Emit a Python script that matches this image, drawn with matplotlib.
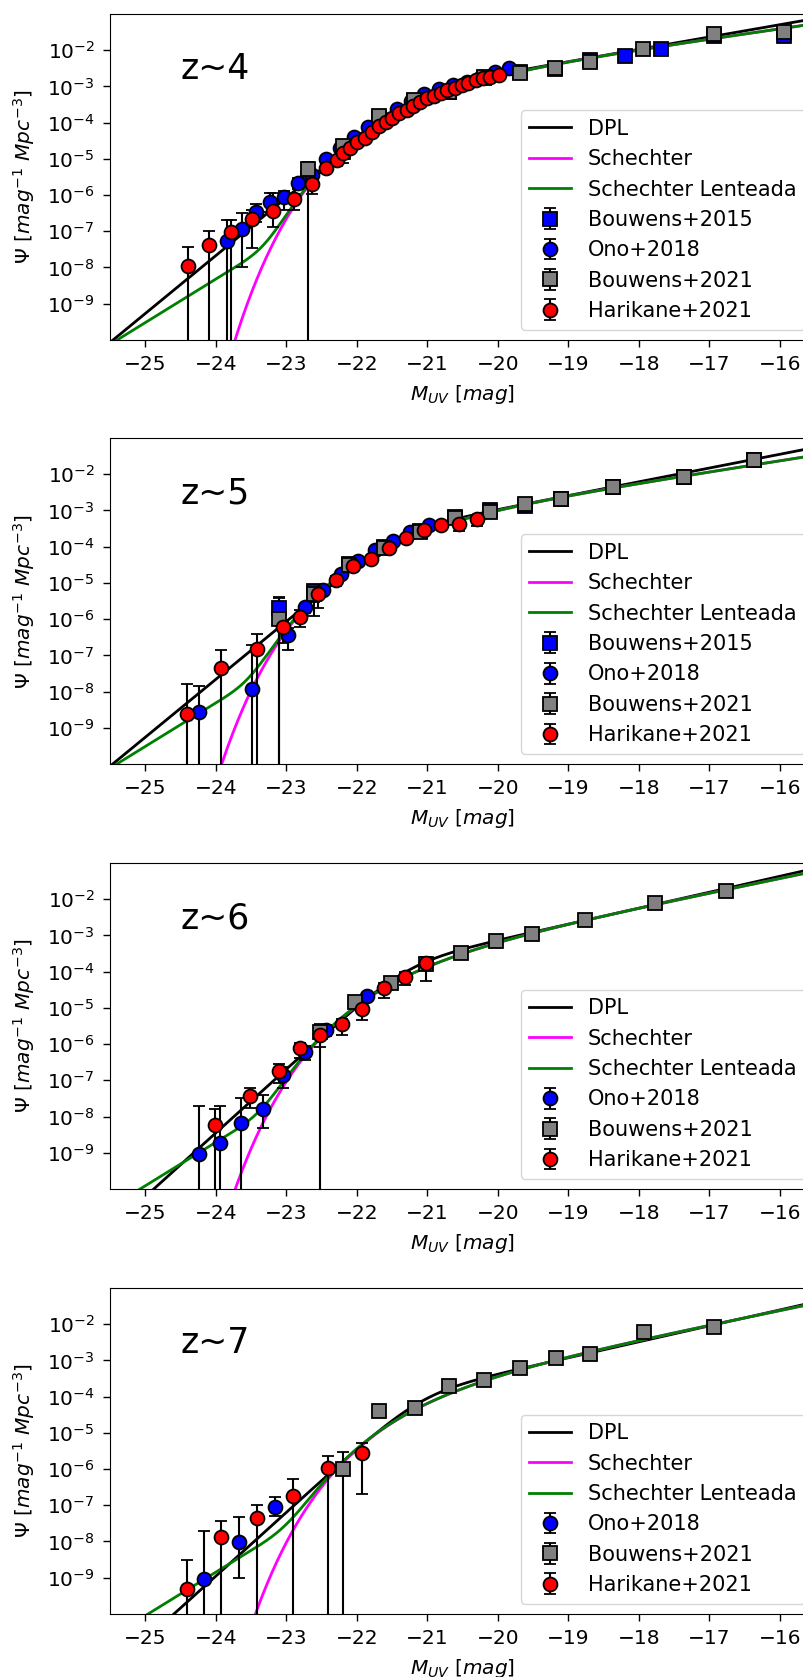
import numpy as np
import matplotlib
matplotlib.use("Agg")
import matplotlib.pyplot as plt
from matplotlib.ticker import NullLocator, FixedLocator

# ---------------- observed UV luminosity functions ----------------
# z ~ 4
M_b15_z4 = [-22.69, -22.19, -21.69, -21.19, -20.69, -20.19, -19.69, -19.19, -18.69, -18.19, -17.69, -16.94, -15.94]
phi_b15_z4 = [3e-6, 1.5e-5, 1.34e-4, 3.93e-4, 6.78e-4, 1.696e-3, 2.475e-3, 2.984e-3, 5.352e-3, 6.865e-3, 1.0473e-2, 2.458e-2, 2.508e-2]
lo_b15_z4 = [2e-6, 1.0e-5, 1.11e-4, 3.6e-4, 6.2e-4, 1.55e-3, 2.24e-3, 2.57e-3, 4.55e-3, 5.75e-3, 8.9e-3, 2.08e-2, 1.71e-2]
hi_b15_z4 = [4e-6, 2.0e-5, 1.57e-4, 4.27e-4, 7.4e-4, 1.84e-3, 2.71e-3, 3.4e-3, 6.15e-3, 7.98e-3, 1.2e-2, 2.84e-2, 3.31e-2]

M_ono_z4 = [-23.84, -23.63, -23.43, -23.23, -23.03, -22.83, -22.63, -22.44, -22.24, -22.04, -21.84,
            -21.64, -21.43, -21.23, -21.04, -20.83, -20.64, -20.44, -20.24, -20.04, -19.84]
phi_ono_z4 = [5.5e-8, 1.12e-7, 3.3e-7, 6.3e-7, 9.1e-7, 2.2e-6, 3.5e-6, 1.02e-5, 1.95e-5, 3.9e-5, 7.4e-5,
              1.32e-4, 2.4e-4, 4.0e-4, 6.0e-4, 8.5e-4, 1.1e-3, 1.35e-3, 1.86e-3, 2.57e-3, 3.16e-3]
lo_ono_z4 = [0, 1.05e-8, 1.8e-7, 3.5e-7, 3.9e-7, 1.5e-6, 2.6e-6, 8.4e-6, 1.7e-5, 3.5e-5, 6.8e-5,
             1.23e-4, 2.25e-4, 3.8e-4, 5.7e-4, 8.1e-4, 1.05e-3, 1.29e-3, 1.78e-3, 2.46e-3, 3.02e-3]
hi_ono_z4 = [2.0e-7, 3.2e-7, 5.8e-7, 1.12e-6, 1.32e-6, 3.0e-6, 4.5e-6, 1.2e-5, 2.2e-5, 4.3e-5, 8.0e-5,
             1.41e-4, 2.55e-4, 4.2e-4, 6.3e-4, 8.9e-4, 1.15e-3, 1.41e-3, 1.94e-3, 2.68e-3, 3.3e-3]

M_b21_z4 = [-22.69, -22.19, -21.69, -21.19, -20.69, -20.19, -19.69, -19.19, -18.69, -17.94, -16.94, -15.94]
phi_b21_z4 = [5.1e-6, 2.2e-5, 1.5e-4, 4.2e-4, 6.8e-4, 1.86e-3, 2.4e-3, 3.2e-3, 4.7e-3, 1.05e-2, 2.75e-2, 3.1e-2]
lo_b21_z4 = [0, 7.6e-6, 1.3e-4, 3.9e-4, 6.3e-4, 1.72e-3, 2.2e-3, 2.9e-3, 4.2e-3, 9.2e-3, 2.4e-2, 2.5e-2]
hi_b21_z4 = [8.3e-6, 3.2e-5, 1.7e-4, 4.5e-4, 7.3e-4, 2.0e-3, 2.6e-3, 3.5e-3, 5.2e-3, 1.18e-2, 3.1e-2, 3.7e-2]

M_har_z4 = [-24.39, -24.09, -23.79, -23.49, -23.19, -22.89, -22.64, -22.44, -22.28, -22.19, -22.10,
            -21.99, -21.88, -21.79, -21.69, -21.59, -21.50, -21.40, -21.29, -21.20, -21.10, -21.01,
            -20.91, -20.81, -20.72, -20.61, -20.51, -20.42, -20.31, -20.21, -20.11, -19.99]
phi_har_z4 = [1.12e-8, 4.2e-8, 9.3e-8, 2.2e-7, 3.6e-7, 7.9e-7, 2.0e-6, 5.6e-6, 9.3e-6, 1.41e-5, 1.95e-5,
              2.9e-5, 3.8e-5, 5.6e-5, 7.8e-5, 1.07e-4, 1.32e-4, 1.82e-4, 2.24e-4, 2.95e-4, 3.8e-4, 4.7e-4,
              5.5e-4, 6.5e-4, 7.9e-4, 9.1e-4, 1.10e-3, 1.26e-3, 1.51e-3, 1.66e-3, 1.86e-3, 2.04e-3]
lo_har_z4 = [0, 0, 0, 3.4e-8, 1.3e-7, 3.9e-7, 1.1e-6, 4.0e-6, 6.3e-6, 1.1e-5, 1.6e-5,
             2.5e-5, 3.4e-5, 5.1e-5, 7.2e-5, 9.9e-5, 1.23e-4, 1.7e-4, 2.1e-4, 2.8e-4, 3.6e-4, 4.45e-4,
             5.2e-4, 6.2e-4, 7.5e-4, 8.7e-4, 1.05e-3, 1.2e-3, 1.44e-3, 1.59e-3, 1.78e-3, 1.95e-3]
hi_har_z4 = [3.7e-8, 1.0e-7, 2.0e-7, 3.9e-7, 1.15e-6, 1.1e-6, 3.0e-6, 7.1e-6, 1.2e-5, 1.7e-5, 2.3e-5,
             3.3e-5, 4.2e-5, 6.1e-5, 8.4e-5, 1.15e-4, 1.41e-4, 1.94e-4, 2.38e-4, 3.1e-4, 4.0e-4, 4.95e-4,
             5.8e-4, 6.8e-4, 8.3e-4, 9.5e-4, 1.15e-3, 1.32e-3, 1.58e-3, 1.73e-3, 1.94e-3, 2.13e-3]

# z ~ 5
M_b15_z5 = [-23.11, -22.61, -22.11, -21.61, -21.11, -20.61, -20.11, -19.61, -19.11, -18.36, -17.36, -16.36]
phi_b15_z5 = [2e-6, 6e-6, 3.4e-5, 1.01e-4, 2.65e-4, 6.76e-4, 1.029e-3, 1.329e-3, 2.085e-3, 4.46e-3, 8.6e-3, 2.44e-2]
lo_b15_z5 = [0, 3e-6, 2.6e-5, 8.7e-5, 2.4e-4, 6.3e-4, 9.5e-4, 1.22e-3, 1.91e-3, 4.07e-3, 7.8e-3, 2.17e-2]
hi_b15_z5 = [4e-6, 9e-6, 4.2e-5, 1.15e-4, 2.9e-4, 7.2e-4, 1.11e-3, 1.44e-3, 2.26e-3, 4.85e-3, 9.4e-3, 2.71e-2]

M_ono_z5 = [-24.24, -23.48, -22.98, -22.73, -22.48, -22.23, -21.98, -21.74, -21.48, -21.24, -20.98]
phi_ono_z5 = [2.75e-9, 1.15e-8, 3.6e-7, 2.1e-6, 6.3e-6, 1.74e-5, 4.0e-5, 8.1e-5, 1.45e-4, 2.5e-4, 3.9e-4]
lo_ono_z5 = [0, 0, 1.38e-7, 1.5e-6, 5.0e-6, 1.5e-5, 3.6e-5, 7.4e-5, 1.34e-4, 2.35e-4, 3.7e-4]
hi_ono_z5 = [1.45e-8, 1.9e-7, 5.6e-7, 2.7e-6, 7.6e-6, 1.98e-5, 4.4e-5, 8.8e-5, 1.56e-4, 2.65e-4, 4.1e-4]

M_b21_z5 = [-23.11, -22.61, -22.11, -21.61, -21.11, -20.61, -20.11, -19.61, -19.11, -18.36, -17.36, -16.36]
phi_b21_z5 = [1.0e-6, 5.1e-6, 3.1e-5, 9.5e-5, 2.6e-4, 6.2e-4, 9.1e-4, 1.5e-3, 2.05e-3, 4.5e-3, 8.5e-3, 2.45e-2]
lo_b21_z5 = [0, 1.2e-6, 2.3e-5, 8.2e-5, 2.35e-4, 5.8e-4, 8.5e-4, 1.4e-3, 1.9e-3, 4.15e-3, 7.8e-3, 2.2e-2]
hi_b21_z5 = [3.8e-6, 9.0e-6, 3.9e-5, 1.08e-4, 2.85e-4, 6.6e-4, 9.7e-4, 1.6e-3, 2.2e-3, 4.85e-3, 9.2e-3, 2.7e-2]

M_har_z5 = [-24.41, -23.92, -23.42, -23.05, -22.80, -22.55, -22.30, -22.05, -21.80, -21.55, -21.30,
            -21.05, -20.80, -20.55, -20.30]
phi_har_z5 = [2.4e-9, 4.4e-8, 1.48e-7, 5.9e-7, 1.17e-6, 5.1e-6, 1.2e-5, 2.9e-5, 4.7e-5, 9.5e-5, 1.7e-4,
              2.9e-4, 4.0e-4, 4.2e-4, 5.75e-4]
lo_har_z5 = [0, 0, 0, 2.2e-7, 6.0e-7, 2.0e-6, 8.0e-6, 2.4e-5, 4.0e-5, 8.3e-5, 1.5e-4,
             2.6e-4, 3.6e-4, 2.7e-4, 3.8e-4]
hi_har_z5 = [1.58e-8, 1.45e-7, 3.8e-7, 9.0e-7, 1.8e-6, 7.5e-6, 1.6e-5, 3.4e-5, 5.4e-5, 1.07e-4, 1.9e-4,
             3.2e-4, 4.4e-4, 4.6e-4, 6.2e-4]

# z ~ 6
M_ono_z6 = [-24.24, -23.94, -23.64, -23.33, -23.04, -22.73, -22.43, -21.85]
phi_ono_z6 = [9.5e-10, 1.9e-9, 6.8e-9, 1.6e-8, 1.38e-7, 6.2e-7, 2.5e-6, 2.1e-5]
lo_ono_z6 = [0, 0, 0, 4.9e-9, 6.3e-8, 3.7e-7, 1.7e-6, 1.6e-5]
hi_ono_z6 = [2.0e-8, 1.9e-8, 3.2e-8, 4.0e-8, 2.4e-7, 8.7e-7, 3.3e-6, 2.6e-5]

M_b21_z6 = [-22.52, -22.02, -21.52, -21.02, -20.52, -20.02, -19.52, -18.77, -17.77, -16.77]
phi_b21_z6 = [2.2e-6, 1.41e-5, 4.9e-5, 1.66e-4, 3.2e-4, 7.1e-4, 1.12e-3, 2.75e-3, 8.1e-3, 1.7e-2]
lo_b21_z6 = [0, 1.1e-5, 4.2e-5, 1.5e-4, 2.9e-4, 6.5e-4, 1.02e-3, 2.5e-3, 7.3e-3, 1.5e-2]
hi_b21_z6 = [3.7e-6, 1.7e-5, 5.6e-5, 1.8e-4, 3.5e-4, 7.7e-4, 1.22e-3, 3.0e-3, 8.9e-3, 1.9e-2]

M_har_z6 = [-24.01, -23.51, -23.11, -22.81, -22.52, -22.21, -21.92, -21.62, -21.32, -21.02]
phi_har_z6 = [5.8e-9, 3.6e-8, 1.78e-7, 7.6e-7, 1.78e-6, 3.5e-6, 9.5e-6, 3.55e-5, 7.2e-5, 1.74e-4]
lo_har_z6 = [0, 1.74e-8, 8.5e-8, 4.1e-7, 8.5e-7, 1.78e-6, 4.6e-6, 1.9e-5, 4.2e-5, 5.6e-5]
hi_har_z6 = [1.6e-8, 6.3e-8, 2.8e-7, 1.1e-6, 2.9e-6, 5.0e-6, 1.35e-5, 5.0e-5, 1.0e-4, 2.5e-4]

# z ~ 7
M_ono_z7 = [-24.16, -23.67, -23.16]
phi_ono_z7 = [9.5e-10, 9.8e-9, 9.1e-8]
lo_ono_z7 = [0, 1.0e-9, 5.0e-8]
hi_ono_z7 = [2.0e-8, 4.7e-8, 1.7e-7]

M_b21_z7 = [-22.19, -21.68, -21.18, -20.69, -20.19, -19.68, -19.18, -18.69, -17.93, -16.94]
phi_b21_z7 = [1.0e-6, 4.1e-5, 4.7e-5, 2.0e-4, 2.9e-4, 6.0e-4, 1.17e-3, 1.48e-3, 6.0e-3, 8.5e-3]
lo_b21_z7 = [0, 3.2e-5, 3.9e-5, 1.75e-4, 2.6e-4, 5.4e-4, 1.05e-3, 1.3e-3, 5.2e-3, 7.2e-3]
hi_b21_z7 = [3.0e-6, 5.0e-5, 5.5e-5, 2.25e-4, 3.2e-4, 6.6e-4, 1.29e-3, 1.66e-3, 6.8e-3, 9.8e-3]

M_har_z7 = [-24.41, -23.92, -23.42, -22.91, -22.41, -21.92]
phi_har_z7 = [4.9e-10, 1.29e-8, 4.4e-8, 1.82e-7, 1.05e-6, 2.7e-6]
lo_har_z7 = [0, 0, 0, 0, 0, 2.0e-7]
hi_har_z7 = [3.0e-9, 3.7e-8, 1.0e-7, 5.2e-7, 2.3e-6, 5.2e-6]

# ---------------- best-fit model parameters ----------------
redshift_labels = ["z~4", "z~5", "z~6", "z~7"]
# Schechter: phi*, M*, alpha
schechter_params = [(1.93e-3, -20.80, -1.70),
                    (7.4e-4, -21.07, -1.76),
                    (4.2e-4, -20.97, -2.00),
                    (3.43e-4, -20.70, -2.00)]
# double power law: phi*, M*, alpha, beta
dpl_params = [(1.01e-3, -21.10, -1.85, -5.0),
              (3.43e-4, -21.40, -1.95, -5.0),
              (2.17e-4, -21.30, -2.10, -5.4),
              (1.53e-4, -21.10, -2.10, -5.4)]
# strong-lensing optical depth used for the lensed Schechter curve
lens_tau = [6.6e-4, 8.6e-4, 9.0e-4, 1.7e-3]


def schechter(M, phi_star, M_star, alpha):
    x = 10.0 ** (-0.4 * (M - M_star))
    return 0.4 * np.log(10) * phi_star * x ** (alpha + 1) * np.exp(-x)


def double_power_law(M, phi_star, M_star, alpha, beta):
    d = M - M_star
    return 0.4 * np.log(10) * phi_star / (10.0 ** (0.4 * (alpha + 1) * d) + 10.0 ** (0.4 * (beta + 1) * d))


def lensed_schechter(M, phi_star, M_star, alpha, tau, mu_min=2.0, index=4.0):
    """Schechter function convolved with a power-law magnification PDF."""
    mu = np.logspace(np.log10(mu_min), 4, 4000)
    pdf = (index - 1) * mu_min ** (index - 1) * mu ** (-index)
    intrinsic = schechter(M[:, None] + 2.5 * np.log10(mu)[None, :], phi_star, M_star, alpha)
    magnified = np.trapezoid(pdf[None, :] * intrinsic, mu, axis=1)
    return (1 - tau) * schechter(M, phi_star, M_star, alpha) + tau * magnified


datasets = [
    [("Bouwens+2015", "s", "blue", M_b15_z4, phi_b15_z4, lo_b15_z4, hi_b15_z4),
     ("Ono+2018", "o", "blue", M_ono_z4, phi_ono_z4, lo_ono_z4, hi_ono_z4),
     ("Bouwens+2021", "s", "gray", M_b21_z4, phi_b21_z4, lo_b21_z4, hi_b21_z4),
     ("Harikane+2021", "o", "red", M_har_z4, phi_har_z4, lo_har_z4, hi_har_z4)],
    [("Bouwens+2015", "s", "blue", M_b15_z5, phi_b15_z5, lo_b15_z5, hi_b15_z5),
     ("Ono+2018", "o", "blue", M_ono_z5, phi_ono_z5, lo_ono_z5, hi_ono_z5),
     ("Bouwens+2021", "s", "gray", M_b21_z5, phi_b21_z5, lo_b21_z5, hi_b21_z5),
     ("Harikane+2021", "o", "red", M_har_z5, phi_har_z5, lo_har_z5, hi_har_z5)],
    [("Ono+2018", "o", "blue", M_ono_z6, phi_ono_z6, lo_ono_z6, hi_ono_z6),
     ("Bouwens+2021", "s", "gray", M_b21_z6, phi_b21_z6, lo_b21_z6, hi_b21_z6),
     ("Harikane+2021", "o", "red", M_har_z6, phi_har_z6, lo_har_z6, hi_har_z6)],
    [("Ono+2018", "o", "blue", M_ono_z7, phi_ono_z7, lo_ono_z7, hi_ono_z7),
     ("Bouwens+2021", "s", "gray", M_b21_z7, phi_b21_z7, lo_b21_z7, hi_b21_z7),
     ("Harikane+2021", "o", "red", M_har_z7, phi_har_z7, lo_har_z7, hi_har_z7)],
]

fig = plt.figure(figsize=(8.04, 16.77), dpi=100)
panel_bottoms = [0.7973, 0.5444, 0.2910, 0.0376]
M_grid = np.linspace(-25.6, -15.4, 600)
FS = 14.5

for i, ax_bottom in enumerate(panel_bottoms):
    ax = fig.add_axes([0.1368, ax_bottom, 0.877, 0.1944])
    ax.set_yscale("log")

    l1, = ax.plot(M_grid, double_power_law(M_grid, *dpl_params[i]), color="black", lw=2, label="DPL")
    l2, = ax.plot(M_grid, schechter(M_grid, *schechter_params[i]), color="magenta", lw=2, label="Schechter")
    l3, = ax.plot(M_grid, lensed_schechter(M_grid, *schechter_params[i], lens_tau[i]),
                  color="green", lw=2, label="Schechter Lenteada")
    handles = [l1, l2, l3]

    for label, marker, colour, M, phi, lo, hi in datasets[i]:
        phi = np.asarray(phi)
        yerr = [phi - np.asarray(lo), np.asarray(hi) - phi]
        h = ax.errorbar(M, phi, yerr=yerr, fmt=marker, ms=10 if marker == "o" else 9.5,
                        mfc=colour, mec="black", mew=1.3, ecolor="black",
                        elinewidth=1.5, capsize=4, capthick=1.5, label=label)
        handles.append(h)

    ax.set_xlim(-25.5, -15.5)
    ax.set_ylim(1e-10, 1e-1)
    ax.xaxis.set_major_locator(FixedLocator(np.arange(-25, -15, 1)))
    ax.yaxis.set_major_locator(FixedLocator([1e-9, 1e-8, 1e-7, 1e-6, 1e-5, 1e-4, 1e-3, 1e-2]))
    ax.yaxis.set_minor_locator(NullLocator())
    ax.xaxis.set_minor_locator(NullLocator())
    ax.tick_params(labelsize=FS, length=5, pad=6, width=1)

    ax.set_xlabel(r"$M_{UV}$ [$mag$]", fontsize=FS, labelpad=6)
    ax.set_ylabel(r"$\Psi$ [$mag^{-1}$ $Mpc^{-3}$]", fontsize=FS, labelpad=7)
    ax.text(0.1, 0.8, redshift_labels[i], transform=ax.transAxes, fontsize=25)
    ax.legend(handles=handles, loc="lower right", fontsize=15)

fig.savefig("out.png", dpi=100)
